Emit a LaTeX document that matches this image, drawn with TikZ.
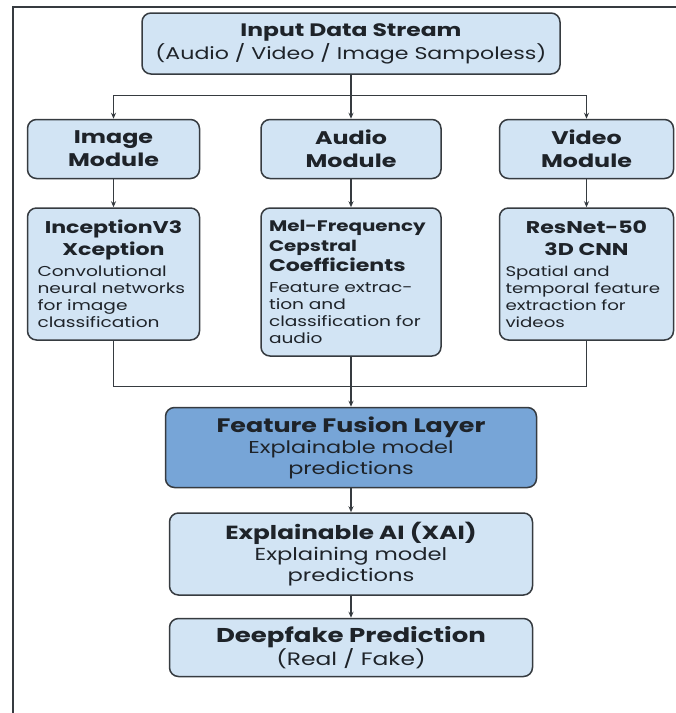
\documentclass[tikz,border=0pt]{standalone}
\usepackage{fontspec}
\setmainfont{Poppins}[FakeStretch=1.3]
\usepackage{tikz}
\usetikzlibrary{positioning,arrows.meta}

\definecolor{boxblue}{HTML}{D2E4F4}
\definecolor{fuseblue}{HTML}{77A5D7}
\definecolor{edgegray}{HTML}{363B40}
\definecolor{inkgray}{HTML}{1E2329}
\hyphenpenalty=10000

\begin{document}
\begin{tikzpicture}[
  x=1pt, y=1pt,
  box/.style={draw=edgegray, fill=boxblue, text=inkgray, rounded corners=9pt, line width=1.5pt, align=center, inner sep=5pt},
  sz/.style={font=\fontsize{#1}{21}\selectfont},
  mod/.style={font=\fontsize{18.3}{23}\selectfont\bfseries},
  det/.style={box, anchor=north, align=left, inner xsep=8pt, font=\fontsize{14.3}{17}\selectfont},
  arr/.style={-{Stealth[length=6pt,width=5pt]}, line width=1.3pt, draw=edgegray},
  ln/.style={line width=1.3pt, draw=edgegray}
]
\useasboundingbox (0,0) rectangle (676,-713);
\draw[ln, line width=1.5pt] (13,-713) -- (13,-7) -- (676,-7);

\node[box, minimum width=418pt, minimum height=61pt, font=\fontsize{17}{23}\selectfont] (inp) at (351,-43.5)
  {{\fontsize{18}{23}\selectfont\bfseries Input Data Stream}\\(Audio / Video / Image Sampoless)};

\node[box, mod, minimum width=180pt, minimum height=59pt, below=44pt of inp] (aud) {Audio\\Module};
\node[box, mod, minimum width=172pt, minimum height=59pt, left=60pt of aud] (img) {Image\\Module};
\node[box, mod, minimum width=174pt, minimum height=59pt, right=57pt of aud] (vid) {Video\\Module};

\node[det, text width=156pt, minimum height=132pt, below=28pt of img] (imgd)
  {{\centering\fontsize{17}{22}\selectfont\bfseries InceptionV3\\Xception\par}\vspace{4pt}
   \hspace*{2pt}Convolutional\\\hspace*{2pt}neural networks\\\hspace*{2pt}for image\\\hspace*{2pt}classification};
\node[det, text width=164pt, minimum height=148pt, below=28pt of aud] (audd)
  {{\fontsize{15.3}{20}\selectfont\bfseries Mel-Frequency\\Cepstral\\{\fontsize{17}{20}\selectfont Coefficients}\par}\vspace{4pt}
   Feature extrac-\\tion and\\classification for\\audio};
\node[det, inner xsep=6pt, text width=162pt, minimum height=132pt, below=28pt of vid, font=\fontsize{14}{17}\selectfont] (vidd)
  {{\centering\fontsize{17}{22}\selectfont\bfseries ResNet-50\\3D CNN\par}\vspace{4pt}
   Spatial and\\temporal~feature\\extraction for\\videos};

\node[box, sz=17.2, fill=fuseblue, minimum width=371pt, minimum height=80pt, below=50pt of audd] (fuse)
  {{\fontsize{19.5}{21}\selectfont\bfseries Feature Fusion Layer}\\Explainable model\\predictions};
\node[box, sz=17.4, minimum width=363pt, minimum height=82pt, below=24pt of fuse] (xai)
  {{\fontsize{19}{21}\selectfont\bfseries Explainable AI (XAI)}\\Explaining model\\predictions};
\node[box, minimum width=363pt, minimum height=58pt, below=22pt of xai, font=\fontsize{18}{22}\selectfont] (deep)
  {{\fontsize{20}{22}\selectfont\bfseries Deepfake Prediction}\\(Real / Fake)};

% branches
\draw[arr] (inp.south) -- (aud.north);
\draw[arr] (inp.south) -- ++(0,-21) -| (img.north);
\draw[arr] (inp.south) -- ++(0,-21) -| (vid.north);
\draw[arr] (img) -- (imgd);
\draw[arr] (aud) -- (audd);
\draw[arr] (vid) -- (vidd);

% merge
\draw[ln] (imgd.south) -- ++(0,-46) -| (vidd.south);
\draw[arr] (audd.south) -- (fuse.north);
\draw[arr] (fuse) -- (xai);
\draw[arr] (xai) -- (deep);
\end{tikzpicture}
\end{document}
